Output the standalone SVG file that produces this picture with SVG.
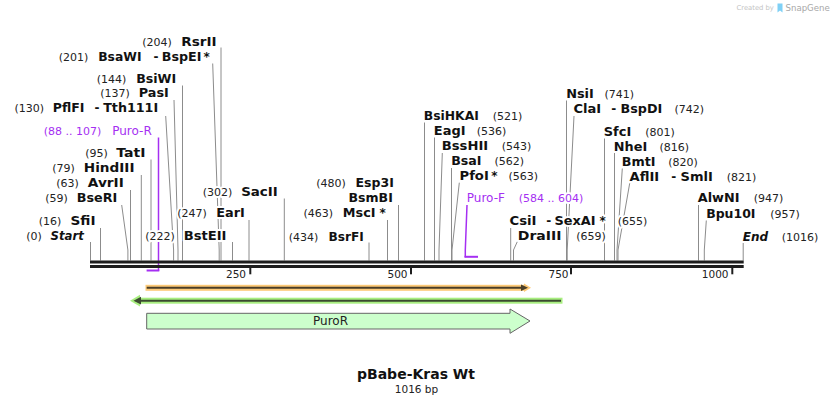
<svg xmlns="http://www.w3.org/2000/svg" width="834" height="406" viewBox="0 0 834 406">
<style>
text { font-family: "DejaVu Sans", Verdana, sans-serif; }
.n { font-size: 11px; fill: #222; }
.e { font-size: 12px; font-weight: bold; fill: #111; }
.i { font-style: italic; }
.pt { font-size: 12px; fill: #a52ff2; }
.pn { font-size: 11px; fill: #a52ff2; }
.h { paint-order: stroke; stroke: #fff; stroke-width: 4px; stroke-linejoin: round; }
.c { fill: none; stroke: #8c8c8c; stroke-width: 1; }
.pc { fill: none; stroke: #a52ff2; stroke-width: 1.5; }
.pb { fill: none; stroke: #a52ff2; stroke-width: 2; }
.t { font-size: 10.5px; fill: #222; text-anchor: end; }
.map { fill: #1e1e1e; }
</style>

<g id="connectors">
<path class="c" d="M90.5,242V260.5"/>
<path class="c" d="M100.5,228V260.5"/>
<path class="c" d="M121.7,205L127.9,250V260.5"/>
<path class="c" d="M130.5,190V260.5"/>
<path class="c" d="M141.3,175V260.5"/>
<path class="c" d="M151,159.5V260.5"/>
<path class="c" d="M165.7,116L173.6,250V260.5"/>
<path class="c" d="M174,100L178,250V260.5"/>
<path class="c" d="M182.5,85.5V260.5"/>
<path class="c" d="M212.7,63.5L219.2,250V260.5"/>
<path class="c" d="M221,47.5V260.5"/>
<path class="c" d="M232.5,242V260.5"/>
<path class="c" d="M249,220V260.5"/>
<path class="c" d="M284.3,198.5V260.5"/>
<path class="c" d="M369,242.5V260.5"/>
<path class="c" d="M387.5,220V260.5"/>
<path class="c" d="M398.5,205V260.5"/>
<path class="c" d="M424.5,122.5V260.5"/>
<path class="c" d="M434.5,137.5V260.5"/>
<path class="c" d="M442.3,153L439,250V260.5"/>
<path class="c" d="M451.5,168V260.5"/>
<path class="c" d="M459.3,182.7L452,250V260.5"/>
<path class="c" d="M510.7,228V260.5"/>
<path class="c" d="M517.3,241.7L513.5,250V260.5"/>
<path class="c" d="M566.5,100.5V260.5"/>
<path class="c" d="M574,116L567.2,250V260.5"/>
<path class="c" d="M604.5,138.5V260.5"/>
<path class="c" d="M614.5,153V260.5"/>
<path class="c" d="M622.3,168.5L617,250V260.5"/>
<path class="c" d="M629.7,183.3L618,250V260.5"/>
<path class="c" d="M698.5,205V260.5"/>
<path class="c" d="M706.3,220.5L704.3,250V260.5"/>
<path class="c" d="M743.2,243V260.5"/>
<path class="pc" d="M158.5,137.5V271"/>
<path class="pb" d="M146.6,270.5H159.3"/>
<path class="pc" d="M467,205L465.3,250V257.3"/>
<path class="pb" d="M464.5,256.8H478"/>
</g>

<g id="map">
<rect class="map" x="90" y="260.5" width="653.7" height="3"/>
<rect class="map" x="90" y="265" width="653.7" height="3"/>
<rect class="map" x="249.3" y="268" width="2" height="6.3"/>
<rect class="map" x="410" y="268" width="2" height="6.3"/>
<rect class="map" x="570" y="268" width="2" height="6.3"/>
<rect class="map" x="731.3" y="268" width="2" height="6.3"/>
<text class="t" x="246" y="277.7">250</text>
<text class="t" x="407.5" y="277.7">500</text>
<text class="t" x="568.5" y="277.7">750</text>
<text class="t" x="728.5" y="277.7">1000</text>
</g>

<g id="RsrII" class="h"><text class="n" x="142.2" y="46">(204)</text><text class="e" x="181.2" y="46" textLength="35.3" lengthAdjust="spacingAndGlyphs">RsrII</text></g>
<g id="BsaWI-BspEI" class="h"><text class="n" x="58.8" y="61">(201)</text><text class="e" x="98.2" y="61" textLength="43.3" lengthAdjust="spacingAndGlyphs">BsaWI</text><text class="e" x="153.5" y="61">-</text><text class="e" x="161.8" y="61" textLength="39.7" lengthAdjust="spacingAndGlyphs">BspEI</text><text class="e" x="203.5" y="61">*</text></g>
<g id="BsiWI" class="h"><text class="n" x="96.8" y="83.3">(144)</text><text class="e" x="136.2" y="83.3" textLength="40" lengthAdjust="spacingAndGlyphs">BsiWI</text></g>
<g id="PasI" class="h"><text class="n" x="100.2" y="96.7">(137)</text><text class="e" x="138.8" y="96.7" textLength="30" lengthAdjust="spacingAndGlyphs">PasI</text></g>
<g id="PflFI-Tth111I" class="h"><text class="n" x="14.5" y="112.3">(130)</text><text class="e" x="52.8" y="112.3" textLength="31.7" lengthAdjust="spacingAndGlyphs">PflFI</text><text class="e" x="94.5" y="112.3">-</text><text class="e" x="103.2" y="112.3" textLength="55" lengthAdjust="spacingAndGlyphs">Tth111I</text></g>
<g id="Puro-R" class="h"><text class="pn" x="43.8" y="135">(88 .. 107)</text><text class="pt" x="112.2" y="135">Puro-R</text></g>
<g id="TatI" class="h"><text class="n" x="85.2" y="157.3">(95)</text><text class="e" x="116.2" y="157.3" textLength="29.3" lengthAdjust="spacingAndGlyphs">TatI</text></g>
<g id="HindIII" class="h"><text class="n" x="52.2" y="172.3">(79)</text><text class="e" x="83.8" y="172.3" textLength="50.7" lengthAdjust="spacingAndGlyphs">HindIII</text></g>
<g id="AvrII" class="h"><text class="n" x="56.2" y="187.3">(63)</text><text class="e" x="87.8" y="187.3" textLength="36" lengthAdjust="spacingAndGlyphs">AvrII</text></g>
<g id="BseRI" class="h"><text class="n" x="45.2" y="202.3">(59)</text><text class="e" x="76.8" y="202.3" textLength="40.4" lengthAdjust="spacingAndGlyphs">BseRI</text></g>
<g id="SfiI" class="h"><text class="n" x="38.8" y="225">(16)</text><text class="e" x="70.5" y="225" textLength="25" lengthAdjust="spacingAndGlyphs">SfiI</text></g>
<g id="Start" class="h"><text class="n" x="26.2" y="240">(0)</text><text class="e i" x="50.5" y="240" textLength="33.3" lengthAdjust="spacingAndGlyphs">Start</text></g>
<g id="BstEII" class="h"><text class="n" x="145.2" y="240">(222)</text><text class="e" x="183.8" y="240" textLength="42.7" lengthAdjust="spacingAndGlyphs">BstEII</text></g>
<g id="EarI" class="h"><text class="n" x="177.2" y="217.3">(247)</text><text class="e" x="216.2" y="217.3" textLength="28.6" lengthAdjust="spacingAndGlyphs">EarI</text></g>
<g id="SacII" class="h"><text class="n" x="202.8" y="196">(302)</text><text class="e" x="241.2" y="196" textLength="36.6" lengthAdjust="spacingAndGlyphs">SacII</text></g>
<g id="Esp3I-BsmBI" class="h"><text class="n" x="316.2" y="186.7">(480)</text><text class="e" x="355.5" y="186.7" textLength="38.3" lengthAdjust="spacingAndGlyphs">Esp3I</text><text class="e" x="348.5" y="201.7" textLength="44.3" lengthAdjust="spacingAndGlyphs">BsmBI</text></g>
<g id="MscI" class="h"><text class="n" x="303.5" y="216.7">(463)</text><text class="e" x="342.8" y="216.7" textLength="32.7" lengthAdjust="spacingAndGlyphs">MscI</text><text class="e" x="379.5" y="216.7">*</text></g>
<g id="BsrFI" class="h"><text class="n" x="288.8" y="240.7">(434)</text><text class="e" x="328.5" y="240.7" textLength="35.3" lengthAdjust="spacingAndGlyphs">BsrFI</text></g>

<g id="BsiHKAI" class="h"><text class="e" x="423.8" y="120" textLength="55" lengthAdjust="spacingAndGlyphs">BsiHKAI</text><text class="n" x="492.8" y="120">(521)</text></g>
<g id="EagI" class="h"><text class="e" x="433.8" y="135" textLength="31.7" lengthAdjust="spacingAndGlyphs">EagI</text><text class="n" x="476.8" y="135">(536)</text></g>
<g id="BssHII" class="h"><text class="e" x="441.8" y="150" textLength="46.4" lengthAdjust="spacingAndGlyphs">BssHII</text><text class="n" x="501.8" y="150">(543)</text></g>
<g id="BsaI" class="h"><text class="e" x="451.2" y="165" textLength="30.3" lengthAdjust="spacingAndGlyphs">BsaI</text><text class="n" x="494.5" y="165">(562)</text></g>
<g id="PfoI" class="h"><text class="e" x="459.5" y="180" textLength="29.3" lengthAdjust="spacingAndGlyphs">PfoI</text><text class="e" x="491.2" y="180">*</text><text class="n" x="508.5" y="180">(563)</text></g>
<g id="Puro-F" class="h"><text class="pt" x="466.8" y="202.3">Puro-F</text><text class="pn" x="518.8" y="202.3">(584 .. 604)</text></g>
<g id="CsiI-SexAI" class="h"><text class="e" x="509.5" y="225" textLength="27" lengthAdjust="spacingAndGlyphs">CsiI</text><text class="e" x="546.2" y="225">-</text><text class="e" x="554.5" y="225" textLength="41" lengthAdjust="spacingAndGlyphs">SexAI</text><text class="e" x="599.5" y="225">*</text><text class="n" x="617.8" y="225">(655)</text></g>
<g id="DraIII" class="h"><text class="e" x="517.8" y="240" textLength="43.7" lengthAdjust="spacingAndGlyphs">DraIII</text><text class="n" x="576.2" y="240">(659)</text></g>
<g id="NsiI" class="h"><text class="e" x="566.2" y="98.3" textLength="27.6" lengthAdjust="spacingAndGlyphs">NsiI</text><text class="n" x="604.5" y="98.3">(741)</text></g>
<g id="ClaI-BspDI" class="h"><text class="e" x="573.5" y="113.3" textLength="27.7" lengthAdjust="spacingAndGlyphs">ClaI</text><text class="e" x="611.2" y="113.3">-</text><text class="e" x="620.5" y="113.3" textLength="41.7" lengthAdjust="spacingAndGlyphs">BspDI</text><text class="n" x="674.5" y="113.3">(742)</text></g>
<g id="SfcI" class="h"><text class="e" x="603.8" y="135.7" textLength="27.4" lengthAdjust="spacingAndGlyphs">SfcI</text><text class="n" x="645.2" y="135.7">(801)</text></g>
<g id="NheI" class="h"><text class="e" x="613.8" y="150.7" textLength="33.4" lengthAdjust="spacingAndGlyphs">NheI</text><text class="n" x="659.5" y="150.7">(816)</text></g>
<g id="BmtI" class="h"><text class="e" x="621.8" y="165.7" textLength="33.7" lengthAdjust="spacingAndGlyphs">BmtI</text><text class="n" x="668.2" y="165.7">(820)</text></g>
<g id="AflII-SmlI" class="h"><text class="e" x="629.5" y="180.7" textLength="29.7" lengthAdjust="spacingAndGlyphs">AflII</text><text class="e" x="671.2" y="180.7">-</text><text class="e" x="680.5" y="180.7" textLength="32.3" lengthAdjust="spacingAndGlyphs">SmlI</text><text class="n" x="726.8" y="180.7">(821)</text></g>
<g id="AlwNI" class="h"><text class="e" x="697.8" y="202.3" textLength="41.7" lengthAdjust="spacingAndGlyphs">AlwNI</text><text class="n" x="753.8" y="202.3">(947)</text></g>
<g id="Bpu10I" class="h"><text class="e" x="706.2" y="218.3" textLength="49.3" lengthAdjust="spacingAndGlyphs">Bpu10I</text><text class="n" x="770.2" y="218.3">(957)</text></g>
<g id="End" class="h"><text class="e i" x="742.8" y="240.7" textLength="25.4" lengthAdjust="spacingAndGlyphs">End</text><text class="n" x="781.8" y="240.7">(1016)</text></g>

<g id="orf-forward">
<rect x="145.5" y="284.8" width="379" height="6" fill="#fdca78"/>
<polygon points="524,283.5 531,287.8 524,292" fill="#fdca78"/>
<path d="M146.7,287.8H522" stroke="#4a3e28" stroke-width="2" fill="none"/>
<polygon points="528,287.8 521,284.5 521,291.1" fill="#4a3e28"/>
</g>
<g id="orf-reverse">
<rect x="139" y="297.7" width="423.5" height="6" fill="#a8ee80"/>
<polygon points="130,300.7 140,294.8 140,306.6" fill="#a8ee80"/>
<path d="M141,300.7H561" stroke="#3b4a30" stroke-width="2" fill="none"/>
<polygon points="133.5,300.7 141,296.8 141,304.6" fill="#3b4a30"/>
</g>
<g id="PuroR">
<path d="M146.7,313.3H510V309L530,321L510,333.3V329H146.7Z" fill="#ccffcc" stroke="#666" stroke-width="1"/>
<text x="330.5" y="324.5" font-size="12" text-anchor="middle" fill="#222">PuroR</text>
</g>

<g id="title">
<text x="416" y="379" font-size="14" font-weight="bold" text-anchor="middle" fill="#111">pBabe-Kras Wt</text>
<text x="416.5" y="393.3" font-size="10.5" text-anchor="middle" fill="#222">1016 bp</text>
</g>

<g id="credit">
<text x="736.5" y="10" font-size="6.8" fill="#c4c4c4">Created by</text>
<path d="M777.5,3.5H782.5V12.5L780,10.5L777.5,12.5Z" fill="#7fd0f5"/>
<text x="785.5" y="11" font-size="8.6" fill="#a8a8a8">SnapGene</text>
</g>
</svg>
